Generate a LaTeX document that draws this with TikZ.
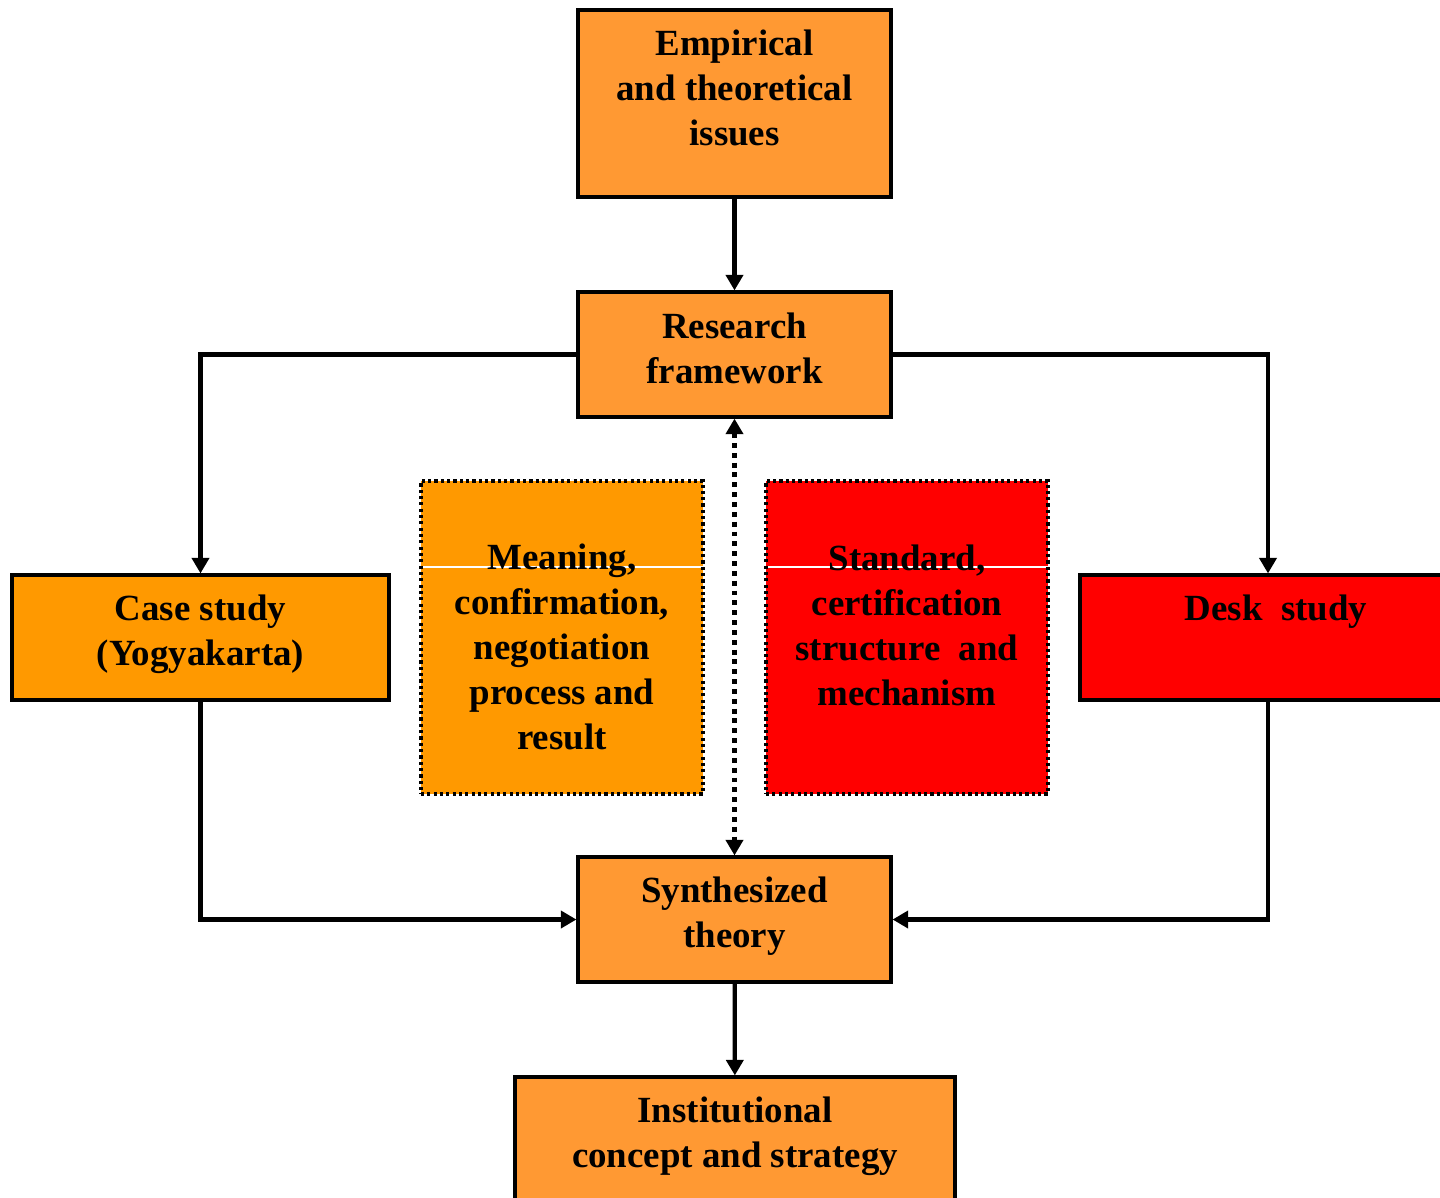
\documentclass[tikz,border=0pt]{standalone}
\usepackage{fontspec}
\setmainfont{Liberation Serif}
\usetikzlibrary{arrows.meta}
\definecolor{paleorange}{HTML}{FF9933}
\definecolor{deeporange}{HTML}{FF9900}
\definecolor{deskred}{HTML}{FF0000}
\begin{document}
\begin{tikzpicture}[>={Triangle[length=4.4pt,width=4.8pt]}]
        \tikzstyle{stage}=[rectangle,draw=black,line width=0.9pt,fill=paleorange,align=center,inner sep=0pt,minimum width=3.13cm,minimum height=1.25cm,font=\fontsize{10.5}{12.8}\selectfont\bfseries]
        \tikzstyle{aspect}=[stage,dash pattern=on 0.9pt off 0.9pt,minimum width=2.82cm,minimum height=3.13cm,
          path picture={\draw[white,line width=0.3pt,solid] ([yshift=-0.86cm]path picture bounding box.north west) -- ([yshift=-0.86cm]path picture bounding box.north east);}]
        \tikzstyle{edge}=[draw,line width=1.2pt,->]
        \clip (0,0) rectangle (14.4,-11.97);
       \begin{scope}
         \node [stage,minimum height=1.87cm] (emp) at (7.345,-1.035) {Empirical\\and theoretical\\issues\\[-3.7pt]\mbox{}};
         \node [stage] (res) at (7.345,-3.545) {Research\\framework\\[-9.4pt]\mbox{}};
         \node [stage,fill=deeporange,minimum width=3.77cm] (case) at (2.005,-6.375) {Case study\\(Yogyakarta)\\[-8.9pt]\mbox{}};
         \node [aspect,fill=deeporange] (mean) at (5.62,-6.375) {\mbox{}\\Meaning,\\confirmation,\\negotiation\\process and\\result};
         \node [aspect,fill=deskred] (std) at (9.07,-6.375) {Standard,\\certification\\structure\ \ and\\mechanism\\[-6pt]\mbox{}};
         \node [stage,fill=deskred,minimum width=3.92cm] (desk) at (12.76,-6.375) {Desk\ \ study\\[4pt]\mbox{}};
         \node [stage] (syn) at (7.345,-9.195) {Synthesized\\theory\\[-8.9pt]\mbox{}};
         \node [stage,minimum width=4.4cm] (inst) at (7.35,-11.395) {Institutional\\concept and strategy\\[-8.9pt]\mbox{}};
         \path[edge] (emp) edge (res);
         \path[edge] (syn) edge (inst);
         \draw[edge] (res.west) -| (case.north);
         \draw[edge] (res.east) -| ([xshift=-0.08cm]desk.north);
         \draw[edge] (case.south) |- (syn.west);
         \draw[edge] ([xshift=-0.08cm]desk.south) |- (syn.east);
         \path[edge,<->,line width=1.4pt,dash pattern=on 1.4pt off 1.4pt] (res) edge (syn);
        \end{scope}
      \end{tikzpicture}
\end{document}
